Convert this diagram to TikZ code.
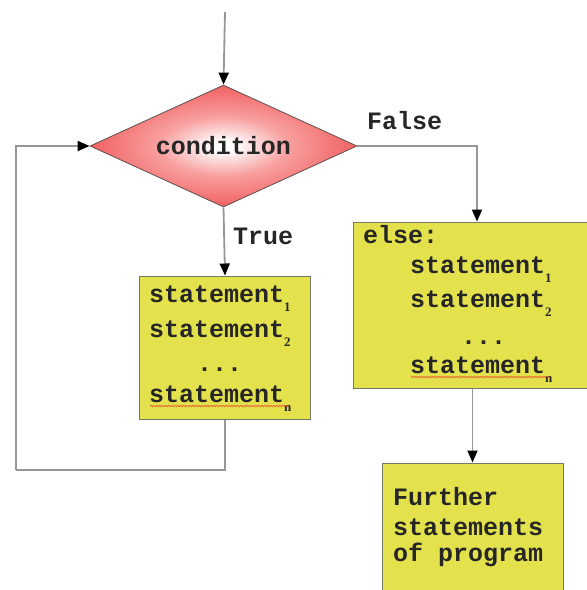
\documentclass[tikz,border=0pt]{standalone}
\usepackage{fontspec}
\setmonofont{Liberation Mono}
\newfontfamily\subfont{Liberation Serif}
\usetikzlibrary{shapes.geometric,arrows.meta,decorations.pathmorphing}

\definecolor{boxfill}{RGB}{228,226,76}
\definecolor{boxedge}{RGB}{120,120,105}
\definecolor{linegray}{RGB}{150,150,150}
\definecolor{txt}{RGB}{38,38,38}
\definecolor{condred}{RGB}{236,62,62}
\definecolor{condmid}{RGB}{241,92,92}
\definecolor{condlight}{RGB}{248,160,160}
\definecolor{condedge}{RGB}{95,80,80}
\definecolor{squiggle}{RGB}{235,95,50}

% white centre fading out to red at the diamond's corners
\pgfdeclareradialshading{condshade}{\pgfpoint{0bp}{0bp}}{%
  color(0bp)=(white); color(2bp)=(white); color(12bp)=(condlight);
  color(26bp)=(condmid); color(50bp)=(condred)}

\newcommand\codefont{\fontsize{25}{30}\selectfont\ttfamily\bfseries}
\newcommand\stmtsub[1]{\raisebox{-9pt}{\subfont\bfseries\fontsize{13}{13}\selectfont #1}}

\tikzset{
  flow/.style={draw=linegray, line width=1.8pt,
    -{Triangle[length=12pt,width=10pt,color=black]}},
  plainline/.style={draw=linegray, line width=1.8pt},
  stmtbox/.style={draw=boxedge, line width=1pt, fill=boxfill, inner sep=0pt},
  code/.style={font=\codefont, text=txt, inner sep=0pt, anchor=base west},
  spell/.style={draw=squiggle, line width=0.7pt, decorate,
    decoration={snake, amplitude=0.8pt, segment length=3pt}},
}

\begin{document}
\begin{tikzpicture}[x=1pt, y=-1pt]
\useasboundingbox (0,0) rectangle (587,590);
\clip (0,0) rectangle (587,590);

% decision
\node[shape=diamond, aspect=2.19, draw=condedge, line width=0.8pt, shading=condshade,
      minimum width=267pt, minimum height=122pt, inner sep=0pt,
      font=\codefont, text=txt] (cond) at (223.5,146) {condition};

% boxes
\node[stmtbox, minimum width=171pt, minimum height=143pt] (lbox) at (225,347.5) {};
\node[stmtbox, minimum width=248pt, minimum height=166pt] (ebox) at (477,305) {};
\node[stmtbox, minimum width=181pt, minimum height=157pt] (fbox) at (472.5,541.5) {};

% loop body
\node[code] (l1) at (149,302) {statement\stmtsub{1}};
\node[code] (l2) at (149,337) {statement\stmtsub{2}};
\node[code] (l3) at (197,371) {...};
\node[code] (l4) at (149,402) {statement\stmtsub{n}};

% else branch
\node[code] (e0) at (363,243) {else:};
\node[code] (e1) at (410,273) {statement\stmtsub{1}};
\node[code] (e2) at (410,307) {statement\stmtsub{2}};
\node[code] (e3) at (461,344) {...};
\node[code] (e4) at (410,373) {statement\stmtsub{n}};

% rest of the program
\node[code] (f1) at (393,505) {Further};
\node[code] (f2) at (393,535) {statements};
\node[code] (f3) at (393,561) {of program};

% branch labels
\node[code] (flab) at (367,129) {False};
\node[code] (tlab) at (233,244) {True};

% spell-check marks
\draw[spell] ([yshift=-4pt,xshift=1pt]l4.base west) -- ([yshift=-4pt,xshift=-3pt]l4.base east);
\draw[spell] ([yshift=-4pt,xshift=1pt]e4.base west) -- ([yshift=-4pt,xshift=-3pt]e4.base east);

% connectors
\coordinate (entry) at (225,12);
\coordinate (back) at (16,470);
\draw[flow] (entry) -- (cond.north);
\draw[flow] (cond.south) -- (lbox.north);
\draw[flow] (cond.east) -| (ebox.north);
\draw[plainline] (lbox.south) |- (back);
\draw[flow] (back) |- (cond.west);
\draw[flow] (fbox.north |- ebox.south) -- (fbox.north);
\end{tikzpicture}
\end{document}
